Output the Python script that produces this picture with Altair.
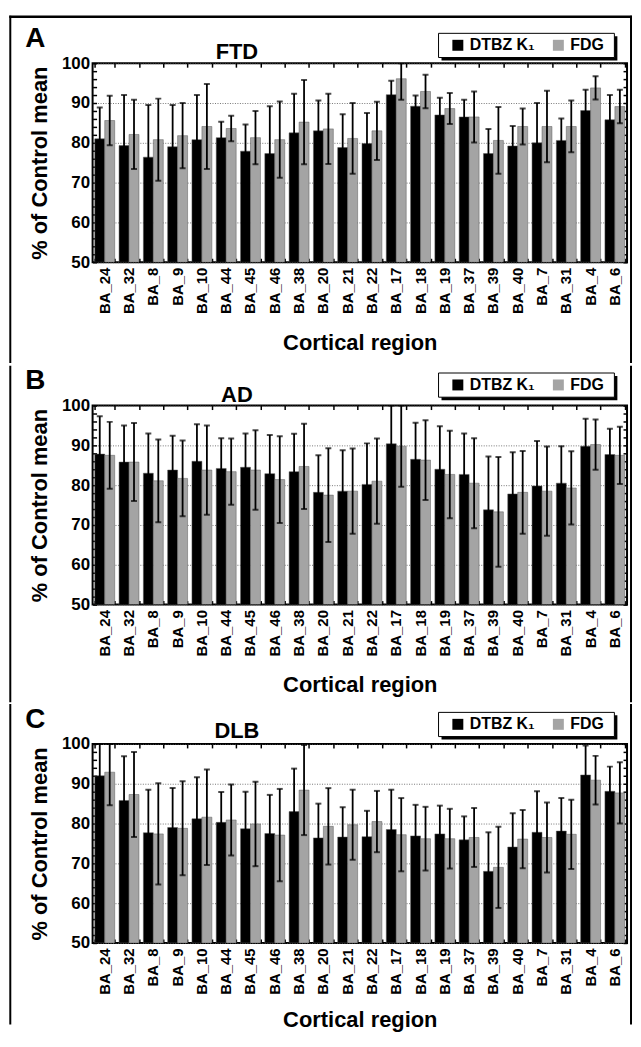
import altair as alt
import pandas as pd

FONT = "Liberation Sans"

regions = ["BA_24", "BA_32", "BA_8", "BA_9", "BA_10", "BA_44", "BA_45", "BA_46", "BA_38", "BA_20", "BA_21",
           "BA_22", "BA_17", "BA_18", "BA_19", "BA_37", "BA_39", "BA_40", "BA_7", "BA_31", "BA_4", "BA_6"]
series_names = ["DTBZ K\u2081", "FDG"]
y_ticks = [50, 60, 70, 80, 90, 100]
minor_ticks = list(range(50, 101, 2))

# Panel A: FTD
ftd_dtbz_mean = [81.0, 79.3, 76.4, 79.0, 80.8, 81.3, 77.9, 77.3, 82.5, 83.0, 78.8,
                 79.8, 92.1, 89.2, 87.0, 86.5, 77.3, 79.2, 80.0, 80.6, 88.1, 85.8]
ftd_dtbz_sd = [7.9, 12.7, 13.1, 10.5, 11.2, 4.0, 6.7, 11.9, 9.8, 7.6, 8.4,
               7.7, 3.5, 2.7, 4.3, 4.3, 6.2, 5.0, 10.0, 5.5, 5.2, 6.2]
ftd_fdg_mean = [85.6, 82.1, 80.8, 81.8, 84.1, 83.6, 81.3, 80.8, 85.2, 83.5, 81.1,
                83.0, 96.1, 92.9, 88.6, 86.5, 80.6, 84.1, 84.1, 84.1, 93.8, 89.1]
ftd_fdg_sd = [6.2, 8.7, 10.3, 8.2, 10.7, 3.2, 6.7, 9.6, 10.6, 8.8, 8.9,
              7.3, 5.3, 4.2, 3.9, 6.4, 8.4, 4.5, 9.0, 6.5, 2.9, 4.2]

# Panel B: AD
ad_dtbz_mean = [87.8, 85.8, 83.0, 83.8, 86.0, 84.2, 84.5, 82.9, 83.4, 78.2, 78.5,
                80.2, 90.4, 86.5, 84.0, 82.7, 73.8, 77.8, 79.8, 80.5, 89.8, 87.7]
ad_dtbz_sd = [9.5, 9.2, 10.0, 8.6, 9.3, 7.6, 8.5, 9.7, 9.5, 9.3, 10.3,
              10.3, 10.5, 9.2, 10.8, 10.3, 13.4, 10.5, 11.3, 9.3, 6.9, 6.5]
ad_fdg_mean = [87.5, 85.8, 81.1, 81.7, 83.8, 83.4, 83.8, 81.4, 84.7, 77.5, 78.5,
               81.0, 89.8, 86.3, 82.7, 80.5, 73.3, 78.2, 78.5, 79.3, 90.2, 87.5]
ad_fdg_sd = [8.4, 9.8, 10.4, 9.5, 11.2, 8.3, 10.0, 10.9, 10.7, 11.8, 10.7,
             10.7, 10.2, 10.0, 11.0, 11.3, 13.8, 10.4, 11.2, 9.2, 6.3, 7.2]

# Panel C: DLB
dlb_dtbz_mean = [92.0, 85.8, 77.7, 79.0, 81.2, 80.3, 78.7, 77.5, 83.0, 76.4, 76.6,
                 76.7, 78.5, 76.9, 77.4, 75.9, 68.0, 74.1, 77.8, 78.1, 92.2, 88.1]
dlb_dtbz_sd = [9.0, 11.1, 10.8, 9.9, 10.4, 7.6, 9.3, 9.7, 10.8, 8.6, 7.5,
               6.5, 10.0, 7.8, 7.1, 5.9, 9.8, 8.5, 10.3, 8.3, 7.4, 6.2]
dlb_fdg_mean = [92.9, 87.3, 77.4, 78.8, 81.6, 80.9, 79.9, 77.1, 88.4, 79.3, 79.7,
                80.5, 77.2, 76.2, 76.2, 76.5, 69.0, 76.1, 76.5, 77.3, 90.9, 87.7]
dlb_fdg_sd = [8.3, 10.7, 12.7, 11.8, 12.0, 8.9, 10.6, 11.6, 11.3, 9.6, 8.8,
              7.7, 9.2, 8.0, 7.5, 7.4, 10.2, 7.3, 8.8, 8.7, 6.1, 7.7]

W, H = 537, 200
FL, FR = -82.7, 541.0          # outer frame, relative to plot origin
LEG_X0, LEG_X1 = 347.6, 524.3  # legend box, relative to plot origin


def panel_df(dm, ds, fm, fs):
    rows = []
    for i, r in enumerate(regions):
        for s, m, sd in ((series_names[0], dm[i], ds[i]), (series_names[1], fm[i], fs[i])):
            rows.append({"region": r, "series": s, "mean": m,
                         "lo": max(50.0, m - sd), "hi": min(100.0, m + sd)})
    return pd.DataFrame(rows)


def xs():
    return alt.Scale(domain=regions, paddingInner=0.18, paddingOuter=0.09)


def ys():
    return alt.Scale(domain=[50, 100], nice=False, zero=False)


def xoff():
    return alt.XOffset("series:N", scale=alt.Scale(domain=series_names, paddingInner=0, paddingOuter=0))


def deco():
    return alt.Chart(alt.Data(values=[{"k": 1}]))


def panel(df, letter, name, leg_top, name_y, top, bottom, draw_top, title_pad):
    base = alt.Chart(df)
    bars = base.mark_bar(stroke="#5a5a5a", strokeWidth=0.5, clip=True).encode(
        x=alt.X("region:N", scale=xs(), axis=alt.Axis(
            title="Cortical region", labelAngle=-90, labelFont=FONT, labelFontWeight="bold",
            labelFontSize=15, labelColor="black", labelPadding=5, ticks=False, domain=False,
            titleFont=FONT, titleFontSize=22, titleFontWeight="bold", titleColor="black",
            titlePadding=title_pad, grid=False)),
        xOffset=xoff(),
        y=alt.Y("mean:Q", scale=ys(), axis=alt.Axis(
            title="% of Control mean", values=y_ticks, labelFont=FONT, labelFontWeight="bold",
            labelFontSize=17, labelColor="black", labelPadding=3, ticks=False, domain=False,
            grid=True, gridColor="#555555", gridDash=[1, 1.5], gridWidth=0.8,
            titleFont=FONT, titleFontSize=22, titleFontWeight="bold", titleColor="black",
            titlePadding=10)),
        y2=alt.Y2Datum(50),
        color=alt.Color("series:N", scale=alt.Scale(domain=series_names, range=["black", "#a4a4a4"]),
                        legend=alt.Legend(title=None, orient="none", legendX=359, legendY=leg_top + 4,
                                          direction="horizontal", symbolType="square", symbolSize=121,
                                          symbolStrokeWidth=0,
                                          labelFont=FONT, labelFontSize=16, labelFontWeight="bold",
                                          labelColor="black", padding=0, columnPadding=15,
                                          labelOffset=4)),
    )
    rules = base.mark_rule(color="black", strokeWidth=1.8, clip=True).encode(
        x=alt.X("region:N", scale=xs(), axis=alt.Axis(
            orient="top", labels=False, title=None, domain=False, grid=False, tickBand="extent",
            tickSize=4, tickWidth=1.5, tickColor="black", offset=-4)),
        xOffset=xoff(),
        y=alt.Y("lo:Q", scale=ys(), axis=alt.Axis(
            orient="right", labels=False, title=None, domain=False, grid=False, values=minor_ticks,
            tickSize=4, tickWidth=1.5, tickColor="black", offset=-4)),
        y2="hi:Q",
    )
    caps_hi = base.mark_tick(color="black", size=6, thickness=2, clip=True).encode(
        x=alt.X("region:N", scale=xs(), axis=alt.Axis(
            orient="bottom", labels=False, title=None, domain=False, grid=False, tickBand="extent",
            tickSize=4, tickWidth=1.5, tickColor="black", offset=-4)),
        xOffset=xoff(),
        y=alt.Y("hi:Q", scale=ys(), axis=alt.Axis(
            orient="left", labels=False, title=None, domain=False, grid=False, values=minor_ticks,
            tickSize=4, tickWidth=1.5, tickColor="black", offset=-4)),
    )
    caps_lo = base.mark_tick(color="black", size=6, thickness=2, clip=True).encode(
        x=alt.X("region:N", scale=xs(), axis=None),
        xOffset=xoff(),
        y=alt.Y("lo:Q", scale=ys(), axis=None),
    )
    left = deco().mark_rect(color="black").encode(
        x=alt.value(FL - 1), x2=alt.value(FL + 1), y=alt.value(top), y2=alt.value(bottom))
    right = deco().mark_rect(color="black").encode(
        x=alt.value(FR - 1), x2=alt.value(FR + 1), y=alt.value(top), y2=alt.value(bottom))
    shadow = deco().mark_rect(color="black").encode(
        x=alt.value(LEG_X0 + 3), x2=alt.value(LEG_X1 + 3),
        y=alt.value(leg_top + 3), y2=alt.value(leg_top + 27.3))
    box = deco().mark_rect(fill="white", stroke="black", strokeWidth=1).encode(
        x=alt.value(LEG_X0), x2=alt.value(LEG_X1), y=alt.value(leg_top), y2=alt.value(leg_top + 24.3))
    letter_t = deco().mark_text(
        text=letter, font=FONT, fontSize=28, fontWeight="bold", align="left", baseline="top",
        color="black").encode(x=alt.value(-67.7), y=alt.value(-38.5))
    name_t = deco().mark_text(
        text=name, font=FONT, fontSize=22, fontWeight="bold", align="center", baseline="top",
        color="black").encode(x=alt.value(145), y=alt.value(name_y))
    layers = [bars, rules, caps_hi, caps_lo, left, right, shadow, box]
    if draw_top:
        # blank margin strip above the outer frame, then the frame's top edge
        layers.append(deco().mark_rect(color="white").encode(
            x=alt.value(FL - 1), x2=alt.value(FR + 1), y=alt.value(top - 4), y2=alt.value(top)))
        layers.append(deco().mark_rect(color="black").encode(
            x=alt.value(FL - 1), x2=alt.value(FR + 1), y=alt.value(top), y2=alt.value(top + 2.5)))
    layers += [letter_t, name_t]
    return alt.layer(*layers).resolve_axis(x="independent", y="independent").properties(width=W, height=H)


pA = panel(panel_df(ftd_dtbz_mean, ftd_dtbz_sd, ftd_fdg_mean, ftd_fdg_sd),
           "A", "FTD", -30.0, -21.3, -48, 301.3, True, 19)
pB = panel(panel_df(ad_dtbz_mean, ad_dtbz_sd, ad_fdg_mean, ad_fdg_sd),
           "B", "AD", -32.7, -21.0, -40, 298, False, 19)
pC = panel(panel_df(dlb_dtbz_mean, dlb_dtbz_sd, dlb_fdg_mean, dlb_fdg_sd),
           "C", "DLB", -31.7, -23.0, -40, 282, False, 15)

chart = alt.vconcat(pA, pB, pC, spacing=0).resolve_scale(color="independent").resolve_legend(
    color="independent").properties(padding=0, background="white").configure_view(
    stroke="black", strokeWidth=2)

chart.save("out.html", embed_options={"renderer": "svg", "actions": False})
